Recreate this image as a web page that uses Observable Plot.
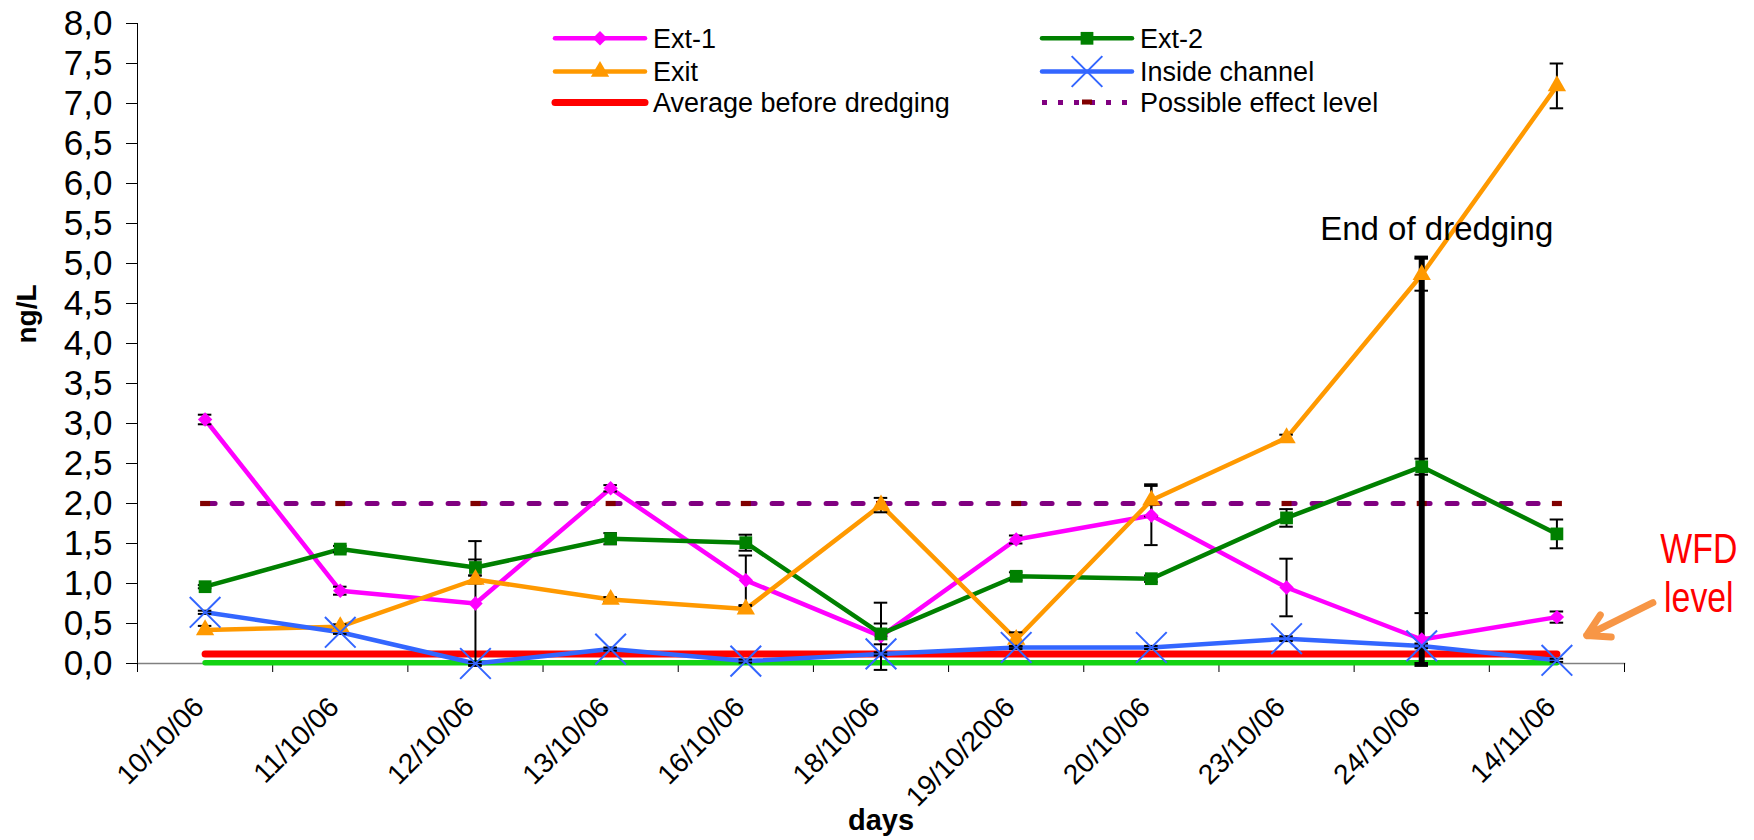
<!DOCTYPE html>
<html><head><meta charset="utf-8">
<script src="https://cdn.jsdelivr.net/npm/d3@7"></script>
<script src="https://cdn.jsdelivr.net/npm/@observablehq/plot@0.6"></script>
<style>
body{margin:0;background:#fff;}
#wrap{position:relative;width:1754px;height:840px;font-family:"Liberation Sans",Arial,sans-serif;}
#wrap svg.leg{position:absolute;left:0;top:0;pointer-events:none;}
</style></head><body><div id="wrap"></div>
<script>
// ---- data ----
const categories = ["10/10/06","11/10/06","12/10/06","13/10/06","16/10/06","18/10/06","19/10/2006","20/10/06","23/10/06","24/10/06","14/11/06"];
const ext1     = [3.05, 0.91, 0.75, 2.19, 1.04, 0.34, 1.55, 1.85, 0.95, 0.30, 0.58];
const ext1Err  = [0.06, 0.05, 0.78, 0.04, 0.31, 0.42, 0.05, 0.37, 0.36, 0.33, 0.07];
const ext2     = [0.96, 1.43, 1.20, 1.56, 1.51, 0.37, 1.09, 1.06, 1.82, 2.46, 1.62];
const ext2Err  = [0.02, 0.04, 0.10, 0.07, 0.10, 0.13, 0.05, 0.04, 0.11, 0.10, 0.18];
const exitV    = [0.42, 0.46, 1.05, 0.80, 0.68, 1.98, 0.30, 2.04, 2.82, 4.86, 7.22];
const exitErr  = [0.05, 0.03, 0.05, 0.03, 0.04, 0.09, 0.09, 0.20, 0.04, 0.20, 0.28];
const inside   = [0.64, 0.39, 0.00, 0.18, 0.03, 0.12, 0.20, 0.20, 0.31, 0.22, 0.04];
const insideErr= [0.02, 0.02, 0.02, 0.02, 0.02, 0.02, 0.02, 0.02, 0.03, 0.03, 0.02];
const avgBefore = 0.12;      // Average before dredging
const effectLevel = 2.0;     // Possible effect level
const wfdLevel = 0.01;       // WFD level (green line)
const endDredgingDay = "24/10/06";
const endDredgingTop = 5.08;
const yTicks = [0,0.5,1,1.5,2,2.5,3,3.5,4,4.5,5,5.5,6,6.5,7,7.5,8];
const yLabel = "ng/L";
const xLabel = "days";

// ---- build tables ----
const n = categories.length;
const idx = categories.map((_, i) => i);
const seriesDefs = [
  {name: "Ext-1", values: ext1, err: ext1Err, color: "#FF00FF", symbol: "diamond2", r: 6.5, filled: true},
  {name: "Ext-2", values: ext2, err: ext2Err, color: "#008000", symbol: "square", r: 7.2, filled: true},
  {name: "Exit", values: exitV, err: exitErr, color: "#FF9900", symbol: "triangle", r: 6.8, filled: true},
  {name: "Inside channel", values: inside, err: insideErr, color: "#3366FF", symbol: "times", r: 14, filled: false}
];
const rowsOf = s => s.values.map((v, i) => ({series: s.name, i, v, lo: v - s.err[i], hi: v + s.err[i]}));
const constRows = v => idx.map(i => ({i, v}));
const dashSymbol = {draw(ctx) { ctx.rect(-5, -2.6, 10, 5.2); }};
const endI = categories.indexOf(endDredgingDay);
const capW = 0.05;

const marks = [
  Plot.frame({anchor: "left", stroke: "#000"}),
  Plot.frame({anchor: "bottom", stroke: "#808080", strokeWidth: 1.5}),
  Plot.axisY({ticks: yTicks, tickFormat: d => d.toFixed(1).replace(".", ","), tickSize: 11, tickPadding: 14, fontSize: 35, label: null}),
  Plot.axisX({ticks: d3.range(-0.5, n, 1), tickFormat: () => "", tickSize: 9, label: null, stroke: "#000"}),
  Plot.axisX({ticks: idx, tickFormat: i => categories[i], tickRotate: -45, tickSize: 0, tickPadding: 39, dx: -6, fontSize: 28, label: null}),
  Plot.text([yLabel], {frameAnchor: "left", dx: -110, rotate: -90, fontSize: 28, fontWeight: "bold"}),
  Plot.text([xLabel], {frameAnchor: "bottom", dy: 166, fontSize: 29, fontWeight: "bold"}),
  // reference lines
  Plot.line(constRows(wfdLevel), {x: "i", y: "v", stroke: "#12D312", strokeWidth: 5.5}),
  Plot.line(constRows(avgBefore), {x: "i", y: "v", stroke: "#FF0000", strokeWidth: 7, strokeLinecap: "round"}),
  Plot.line(constRows(effectLevel), {x: "i", y: "v", stroke: "#800080", strokeWidth: 5, strokeDasharray: "10,17"}),
  Plot.dot(constRows(effectLevel), {x: "i", y: "v", symbol: dashSymbol, fill: "#800000", stroke: "none"})
];
for (const s of seriesDefs) {
  marks.push(Plot.line(rowsOf(s), {x: "i", y: "v", stroke: s.color, strokeWidth: 4.5, strokeLinejoin: "round"}));
}
marks.push(
  Plot.ruleX([{i: endI, top: endDredgingTop}], {x: "i", y1: () => 0, y2: "top", stroke: "#000", strokeWidth: 6}),
  Plot.ruleY([{i: endI, top: endDredgingTop}], {y: "top", x1: d => d.i - capW, x2: d => d.i + capW, stroke: "#000", strokeWidth: 3}),
  Plot.ruleY([{i: endI}], {y: () => 0, x1: d => d.i - capW, x2: d => d.i + capW, stroke: "#000", strokeWidth: 3})
);
for (const s of seriesDefs) {
  const rows = rowsOf(s);
  marks.push(
    Plot.ruleX(rows, {x: "i", y1: "lo", y2: "hi", stroke: "#000", strokeWidth: 2}),
    Plot.ruleY(rows, {y: "hi", x1: d => d.i - capW, x2: d => d.i + capW, stroke: "#000", strokeWidth: 2}),
    Plot.ruleY(rows, {y: "lo", x1: d => d.i - capW, x2: d => d.i + capW, stroke: "#000", strokeWidth: 2})
  );
}
for (const s of seriesDefs) {
  const rows = rowsOf(s);
  marks.push(s.filled
    ? Plot.dot(rows, {x: "i", y: "v", symbol: s.symbol, r: s.r, fill: s.color, stroke: "none"})
    : Plot.dot(rows, {x: "i", y: "v", symbol: s.symbol, r: s.r, stroke: s.color, strokeWidth: 2}));
}
// annotations
marks.push(
  Plot.text([{i: endI, y: 5.42, t: "End of dredging"}], {x: "i", y: "y", text: "t", dx: 15, fontSize: 33}),
  Plot.arrow([{x1: 10.71, y1: 0.76, x2: 10.22, y2: 0.35}], {x1: "x1", y1: "y1", x2: "x2", y2: "y2", stroke: "#F79646", strokeWidth: 7, headLength: 24}),
  Plot.text([{x: 11.05, y: 1.43, t: "WFD"}, {x: 11.05, y: 0.81, t: "level"}], {x: "x", y: "y", text: "t", fill: "#FF0000", fontSize: 42})
);

const chart = Plot.plot({
  width: 1754, height: 840,
  marginTop: 23, marginBottom: 177, marginLeft: 137, marginRight: 130,
  x: {type: "linear", domain: [-0.5, n - 0.5]},
  y: {domain: [0, 8]},
  style: {fontFamily: "'Liberation Sans', Arial, sans-serif", background: "white", color: "#000", overflow: "visible"},
  marks
});
const wrap = document.getElementById("wrap");
wrap.appendChild(chart);

// condense the WFD label (narrow face in the original)
const wfdTexts = d3.select(chart).selectAll("text").filter(function() { return this.textContent === "WFD" || this.textContent === "level"; });
let wfdNode = wfdTexts.filter(function() { return this.textContent === "WFD"; }).node();
const sx = wfdNode ? Math.min(1, 77 / wfdNode.getComputedTextLength()) : 1;
wfdTexts.attr("transform", function() { return (this.getAttribute("transform") || "") + ` scale(${sx},1)`; });

// ---- legend (overlay) ----
const legendItems = [
  {name: "Ext-1", col: 0, row: 0, color: "#FF00FF", kind: "diamond"},
  {name: "Ext-2", col: 1, row: 0, color: "#008000", kind: "square"},
  {name: "Exit", col: 0, row: 1, color: "#FF9900", kind: "triangle"},
  {name: "Inside channel", col: 1, row: 1, color: "#3366FF", kind: "times"},
  {name: "Average before dredging", col: 0, row: 2, color: "#FF0000", kind: "thick"},
  {name: "Possible effect level", col: 1, row: 2, color: "#800080", kind: "dotted"}
];
const colX = [553, 1040], rowY = [38.3, 71.5, 102.5], lineLen = 94;
const leg = d3.select(wrap).append("svg").attr("class", "leg").attr("width", 1754).attr("height", 130)
  .style("font-family", "'Liberation Sans', Arial, sans-serif");
for (const it of legendItems) {
  const x0 = colX[it.col], y0 = rowY[it.row], xm = x0 + lineLen / 2;
  const g = leg.append("g");
  if (it.kind === "dotted") {
    g.append("line").attr("x1", x0 + 2).attr("x2", x0 + lineLen).attr("y1", y0).attr("y2", y0)
      .attr("stroke", it.color).attr("stroke-width", 5).attr("stroke-dasharray", "5,11");
    g.append("rect").attr("x", xm - 5).attr("y", y0 - 3).attr("width", 10).attr("height", 5).attr("fill", "#800000");
  } else {
    g.append("line").attr("x1", x0 + 2).attr("x2", x0 + lineLen - 2).attr("y1", y0).attr("y2", y0)
      .attr("stroke", it.color).attr("stroke-width", it.kind === "thick" ? 7 : 4.5).attr("stroke-linecap", "round");
    const sym = {diamond: d3.symbolDiamond2, square: d3.symbolSquare, triangle: d3.symbolTriangle, times: d3.symbolTimes}[it.kind];
    const r = {diamond: 6.5, square: 7.2, triangle: 6.8, times: 14}[it.kind];
    if (sym) {
      const p = g.append("path").attr("transform", `translate(${xm},${y0})`).attr("d", d3.symbol(sym, Math.PI * r * r)());
      if (it.kind === "times") p.attr("fill", "none").attr("stroke", it.color).attr("stroke-width", 2);
      else p.attr("fill", it.color);
    }
  }
  g.append("text").attr("x", x0 + lineLen + 6).attr("y", y0).attr("dy", "0.35em")
    .attr("font-size", 27).text(it.name);
}
</script></body></html>
